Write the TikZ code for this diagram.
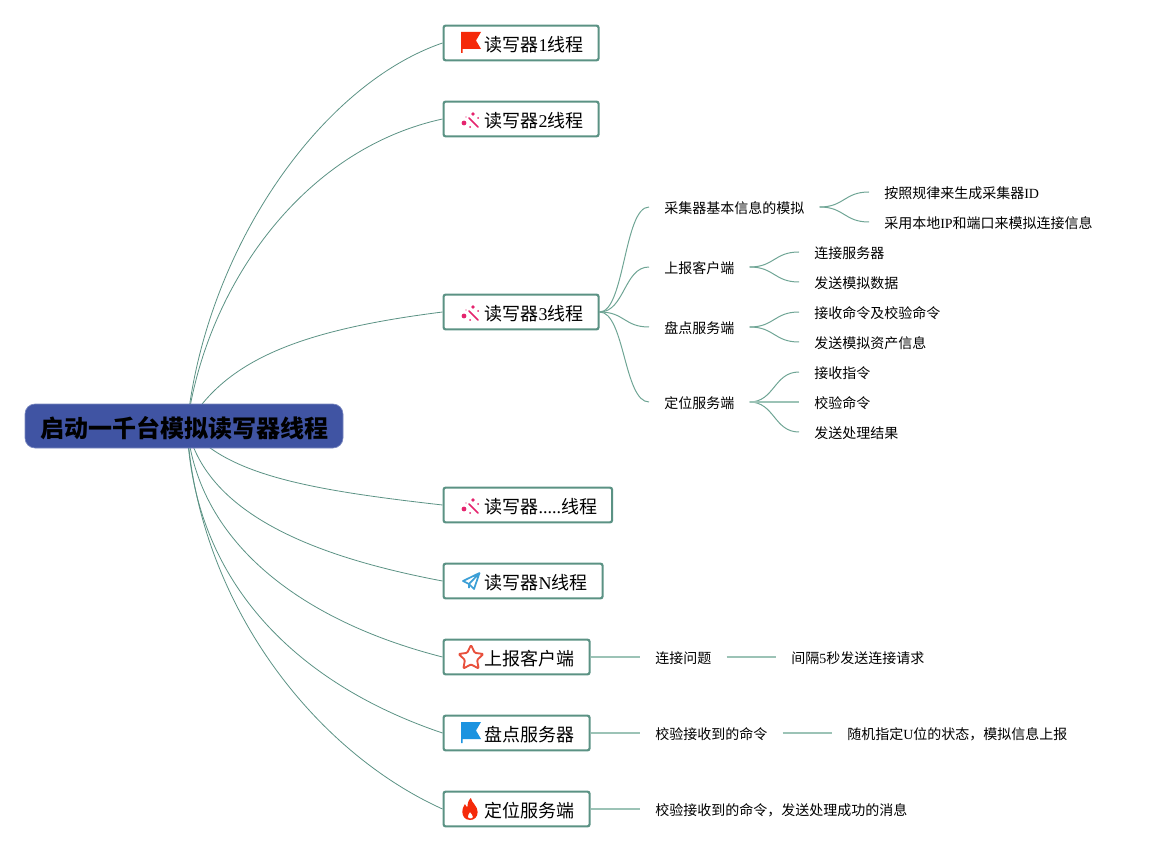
\documentclass[tikz,border=0pt]{standalone}
\usepackage{fontspec}
\setmainfont{Liberation Serif}
\newfontfamily\cjk{Noto Sans CJK SC}
\newcommand{\zh}[1]{{\cjk #1}}
\usetikzlibrary{backgrounds}
\definecolor{edgegreen}{HTML}{5B9284}
\definecolor{softedge}{HTML}{6FA595}
\definecolor{paleedge}{HTML}{9CC3B6}
\definecolor{rootblue}{HTML}{4054A3}
\definecolor{flagred}{HTML}{F52A0A}
\definecolor{flagblue}{HTML}{1B93E0}
\definecolor{wandpink}{HTML}{E5246E}
\definecolor{planeblue}{HTML}{3C9FD6}
\definecolor{starred}{HTML}{E8503C}
\tikzset{
  x=0.75pt,y=-0.75pt,
  rootbox/.style={fill=rootblue,draw=rootblue!70!white,line width=0.5pt,rounded corners=7.5pt,anchor=center,
    minimum width=238.5pt,minimum height=33pt,inner sep=0pt,text height=16.6pt,text depth=0pt,text=black,font=\fontsize{18pt}{20pt}\selectfont\bfseries},
  topicbox/.style={draw=edgegreen,fill=white,line width=1.6pt,rounded corners=1.5pt,anchor=west,
    minimum height=26pt,inner ysep=0pt,inner xsep=11.25pt,text height=12.6pt,text depth=0pt,text=black,font=\fontsize{13.5pt}{16pt}\selectfont},
  leaf/.style={anchor=west,inner xsep=11.25pt,inner ysep=0pt,minimum height=15pt,text height=9.8pt,text depth=0pt,text=black,font=\fontsize{10.5pt}{13pt}\selectfont},
  link/.style={edgegreen,line width=0.6pt},
  sublink/.style={softedge,line width=0.75pt},
  palelink/.style={paleedge,line width=0.8pt},
  flagicon/.pic={\fill[#1] (-10,-11) -- (10,-11) -- (5,-2.5) -- (10,6) -- (-8.5,6) -- (-8.5,10) -- (-10,10) -- cycle;},
  wandicon/.pic={
    \draw[#1,line width=1.2pt,line cap=round] (-2,-2) -- (7,7);
    \fill[#1] (-7,3) circle (2.4);
    \fill[#1] (2,-6) circle (1.9);
    \fill[#1] (7,-2) circle (1);
    \fill[#1] (-1,7) circle (1);
    \fill[#1] (-5,-3) circle (0.7);
  },
  planeicon/.pic={\draw[#1,line width=1.3pt,line join=round] (8.5,-8) -- (-8,0) -- (-2,3) -- (8.5,-8) -- (3,8) -- (-2,3) -- (-2,7);},
  staricon/.pic={\draw[#1,line width=1.4pt,line join=round,rounded corners=0.8pt]
    (-90:13) -- (-54:6.4) -- (-18:13) -- (18:6.4) -- (54:13) -- (90:6.4) -- (126:13) -- (162:6.4) -- (198:13) -- (234:6.4) -- cycle;},
  flameicon/.pic={\fill[#1,even odd rule,xscale=0.85] (1,-11) .. controls (2,-6) and (9,-3) .. (9,3) .. controls (9,8) and (5,11) .. (0,11)
      .. controls (-6,11) and (-9,7) .. (-9,3) .. controls (-9,-1) and (-7,-3) .. (-6,-5) .. controls (-5,-3) and (-4,-2) .. (-3,-2) .. controls (-3,-5) and (-2,-9) .. (1,-11) -- cycle
      (0,3) .. controls (-1,5) and (-3,6) .. (-2.5,8) .. controls (-2,10) and (3,10) .. (3.5,8) .. controls (3.5,6) and (1.5,5) .. (0,3) -- cycle;},
}
\newcommand{\gap}{\hspace{19.5pt}}
\begin{document}
\begin{tikzpicture}
\useasboundingbox (0,0) rectangle (1153,852);
\node[rootbox] (root) at (184,426) {\zh{启动一千台模拟读写器线程}};
\coordinate (hub) at (187,426);
\node[topicbox] (t1) at (442.5,43) {\gap\zh{读写器}1\zh{线程}};
\node[topicbox] (t2) at (442.5,119) {\gap\zh{读写器}2\zh{线程}};
\node[topicbox] (t3) at (442.5,312) {\gap\zh{读写器}3\zh{线程}};
\node[topicbox] (t4) at (442.5,505) {\gap\zh{读写器}.....\zh{线程}};
\node[topicbox] (t5) at (442.5,581) {\gap\zh{读写器}N\zh{线程}};
\node[topicbox] (t6) at (442.5,657) {\gap\zh{上报客户端}};
\node[topicbox] (t7) at (442.5,733) {\gap\zh{盘点服务器}};
\node[topicbox] (t8) at (442.5,809) {\gap\zh{定位服务端}};
\pic at (471,43) {flagicon=flagred};
\pic at (471,120) {wandicon=wandpink};
\pic at (471,313) {wandicon=wandpink};
\pic at (471,506) {wandicon=wandpink};
\pic at (471,581) {planeicon=planeblue};
\pic at (471,658) {staricon=starred};
\pic at (471,733) {flagicon=flagblue};
\pic at (470,809) {flameicon=flagred};
% level two under thread 3
\node[leaf] (a1) at (649,207) {\zh{采集器基本信息的模拟}};
\node[leaf] (a2) at (649,267) {\zh{上报客户端}};
\node[leaf] (a3) at (649,327) {\zh{盘点服务端}};
\node[leaf] (a4) at (649,402) {\zh{定位服务端}};
\node[leaf] (b1) at (869,192) {\zh{按照规律来生成采集器}ID};
\node[leaf] (b2) at (869,222) {\zh{采用本地}IP\zh{和端口来模拟连接信息}};
\node[leaf] (b3) at (799,252) {\zh{连接服务器}};
\node[leaf] (b4) at (799,282) {\zh{发送模拟数据}};
\node[leaf] (b5) at (799,312) {\zh{接收命令及校验命令}};
\node[leaf] (b6) at (799,342) {\zh{发送模拟资产信息}};
\node[leaf] (b7) at (799,372) {\zh{接收指令}};
\node[leaf] (b8) at (799,402) {\zh{校验命令}};
\node[leaf] (b9) at (799,432) {\zh{发送处理结果}};
% bottom chains
\node[leaf] (c1) at (640,657) {\zh{连接问题}};
\node[leaf] (c2) at (776,657) {\zh{间隔}5\zh{秒发送连接请求}};
\node[leaf] (d1) at (640,733) {\zh{校验接收到的命令}};
\node[leaf] (d2) at (832,733) {\zh{随机指定}U\zh{位的状态，模拟信息上报}};
\node[leaf] (e1) at (640,809) {\zh{校验接收到的命令，发送处理成功的消息}};
\begin{scope}[on background layer]
\draw[link] (hub) .. controls (205,250) and (320,85) .. (t1.west);
\draw[link] (hub) .. controls (205,290) and (300,150) .. (t2.west);
\draw[link] (hub) .. controls (225,360) and (300,330) .. (t3.west);
\draw[link] (hub) .. controls (225,475) and (310,490) .. (t4.west);
\draw[link] (hub) .. controls (205,512) and (310,556) .. (t5.west);
\draw[link] (hub) .. controls (198,545) and (305,622) .. (t6.west);
\draw[link] (hub) .. controls (193,585) and (300,685) .. (t7.west);
\draw[link] (hub) .. controls (197,600) and (312,750) .. (t8.west);
\foreach \n in {a1,a2,a3,a4}{\draw[sublink] (t3.east) .. controls +(25,0) and ([xshift=-25*0.75pt]\n.west) .. (\n.west);}
\foreach \n in {b1,b2}{\draw[sublink] (a1.east) .. controls +(25,0) and ([xshift=-25*0.75pt]\n.west) .. (\n.west);}
\foreach \n in {b3,b4}{\draw[sublink] (a2.east) .. controls +(25,0) and ([xshift=-25*0.75pt]\n.west) .. (\n.west);}
\foreach \n in {b5,b6}{\draw[sublink] (a3.east) .. controls +(25,0) and ([xshift=-25*0.75pt]\n.west) .. (\n.west);}
\foreach \n in {b7,b9}{\draw[sublink] (a4.east) .. controls +(25,0) and ([xshift=-25*0.75pt]\n.west) .. (\n.west);}
\draw[palelink] (a4.east) -- (b8.west);
\draw[palelink] (t6.east) -- (c1.west);
\draw[palelink] (c1.east) -- (c2.west);
\draw[palelink] (t7.east) -- (d1.west);
\draw[palelink] (d1.east) -- (d2.west);
\draw[palelink] (t8.east) -- (e1.west);
\end{scope}
\end{tikzpicture}
\end{document}
